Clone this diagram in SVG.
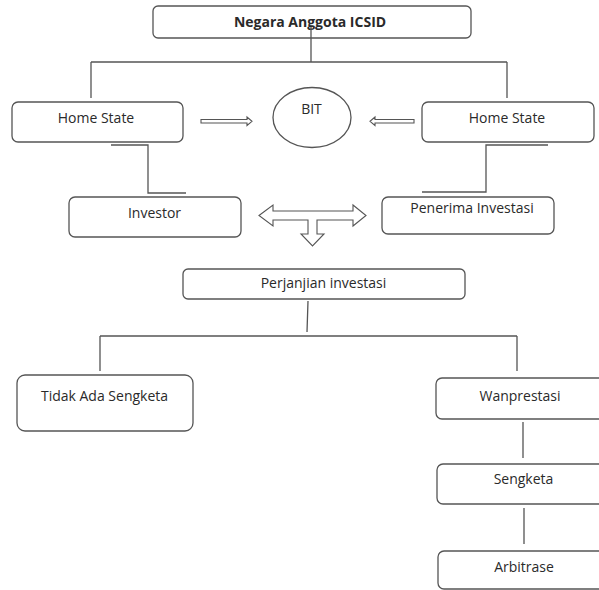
<svg xmlns="http://www.w3.org/2000/svg" width="599" height="590" viewBox="0 0 599 590">
<style>
.box{fill:#fff;stroke:#555;stroke-width:1.3}
.ln{fill:none;stroke:#555;stroke-width:1.3}
.arr{fill:#fff;stroke:#555;stroke-width:1.1;stroke-linejoin:miter}
text{font-family:"Open Sans","Liberation Sans",sans-serif;font-size:14px;fill:#2a2a2a;text-anchor:middle}
.b{font-weight:bold}
</style>
<rect width="599" height="590" fill="#fff"/>
<g id="connectors">
<path class="ln" d="M311,27 V62 M91,62 H507 M91,62 V98 M507,62 V98"/>
<path class="ln" d="M111,145 H148 V193 H186"/>
<path class="ln" d="M548,145 H486 V192 H422"/>
<path class="arr" d="M201,119.5 H247 V117 L252,121.3 L247,125.5 V123 H201 Z"/>
<path class="arr" d="M414,119.5 H375 V117 L370,121.3 L375,125.5 V123 H414 Z"/>
<path class="arr" d="M259,215.5 L273,205 V211 H353 V205 L366,215.5 L353,226 V220 H317 V234 H324 L312.5,246 L301,234 H308 V220 H273 V226 Z"/>
<path class="ln" d="M308,301 L307,332 M100,336 H517 M100,336 V371 M517,336 V371"/>
<path class="ln" d="M523,422 V458 M524,508 V544"/>
</g>
<g id="negara"><rect class="box" x="153" y="6" width="318" height="32" rx="5"/><text class="b" x="310" y="27">Negara Anggota ICSID</text></g>
<path class="ln" d="M311,27 V38"/>
<g id="home-left"><rect class="box" x="12" y="102" width="171" height="40" rx="6"/><text x="96" y="123">Home State</text></g>
<g id="bit"><ellipse class="box" cx="312" cy="117.5" rx="39" ry="30"/><text x="311.5" y="114">BIT</text></g>
<g id="home-right"><rect class="box" x="422" y="102" width="172" height="40" rx="6"/><text x="507" y="123">Home State</text></g>
<g id="investor"><rect class="box" x="69" y="197" width="172" height="40" rx="6"/><text x="154.5" y="218">Investor</text></g>
<g id="penerima"><rect class="box" x="382" y="197" width="172" height="37" rx="6"/><text x="472" y="213">Penerima Investasi</text></g>
<g id="perjanjian"><rect class="box" x="183" y="269" width="282" height="30" rx="5"/><text x="323.5" y="288">Perjanjian investasi</text></g>
<g id="tidak"><rect class="box" x="17" y="375" width="176" height="56" rx="8"/><text x="104.5" y="401">Tidak Ada Sengketa</text></g>
<g id="wanprestasi"><rect class="box" x="436" y="378" width="172" height="41" rx="6"/><text x="520" y="401">Wanprestasi</text></g>
<g id="sengketa"><rect class="box" x="437" y="464" width="172" height="40" rx="6"/><text x="523.5" y="484">Sengketa</text></g>
<g id="arbitrase"><rect class="box" x="438" y="551" width="172" height="38" rx="6"/><text x="524" y="572">Arbitrase</text></g>
</svg>
